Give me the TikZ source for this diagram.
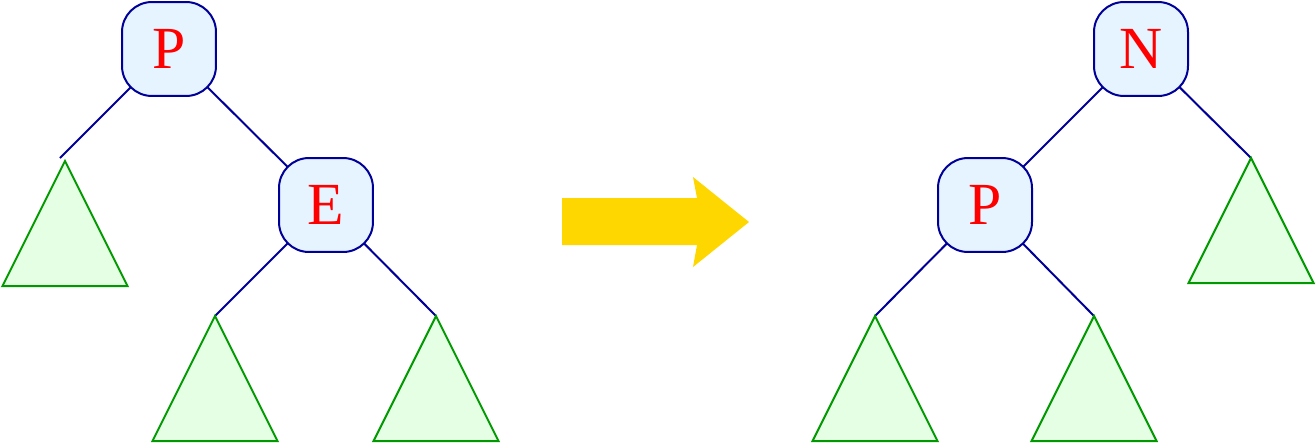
\documentclass[tikz,border=0pt]{standalone}
\usepackage{fontspec}
\setmainfont{Liberation Serif}
\usetikzlibrary{backgrounds}
\definecolor{nodefill}{HTML}{E6F4FF}
\definecolor{nodeedge}{HTML}{000099}
\definecolor{trifill}{HTML}{E5FFE5}
\definecolor{triedge}{HTML}{009900}
\definecolor{arrowgold}{HTML}{FFD700}
\tikzset{
  treenode/.style={draw=nodeedge, fill=nodefill, line width=0.04cm,
    rounded corners=0.6cm, minimum width=1.88cm, minimum height=1.88cm,
    inner sep=0pt, text=red, font=\fontsize{34}{40}\selectfont},
  edge/.style={draw=nodeedge, line width=0.04cm},
  tri/.style={draw=triedge, fill=trifill, line width=0.04cm, line join=miter},
  bigarrow/.style={fill=arrowgold, draw=none}
}
\newcommand\subtree[1]{\path[tri] (#1) -- ++(-62.5,125) -- ++(125,0) -- cycle;}
\begin{document}
\begin{tikzpicture}[x=0.02cm,y=-0.02cm]
\useasboundingbox (0,0) rectangle (1315,444);
% left tree
\node[treenode] (P1) at (169,49) {P};
\node[treenode] (E1) at (326,205) {E};
\coordinate (a1) at (60,158);
\coordinate (t1) at (65,161);
\coordinate (t2) at (215,316);
\coordinate (t3) at (436,316);
% right tree
\node[treenode] (N2) at (1141,49) {N};
\node[treenode] (P2) at (985,205) {P};
\coordinate (t4) at (875,316);
\coordinate (t5) at (1094,316);
\coordinate (t6) at (1251,158);
\begin{pgfonlayer}{background}
  \draw[edge] (P1.center) -- (a1);
  \draw[edge] (P1.center) -- (E1.center);
  \draw[edge] (E1.center) -- (t2);
  \draw[edge] (E1.center) -- (t3);
  \draw[edge] (N2.center) -- (P2.center);
  \draw[edge] (N2.center) -- (t6);
  \draw[edge] (P2.center) -- (t4);
  \draw[edge] (P2.center) -- (t5);
\end{pgfonlayer}
\subtree{t1}
\subtree{t2}
\subtree{t3}
\subtree{t4}
\subtree{t5}
\subtree{t6}
% arrow
\path[bigarrow] (562,198) -- (697,198) -- (693,177) -- (749,222) -- (693,267) -- (697,245) -- (562,245) -- cycle;
\end{tikzpicture}
\end{document}
